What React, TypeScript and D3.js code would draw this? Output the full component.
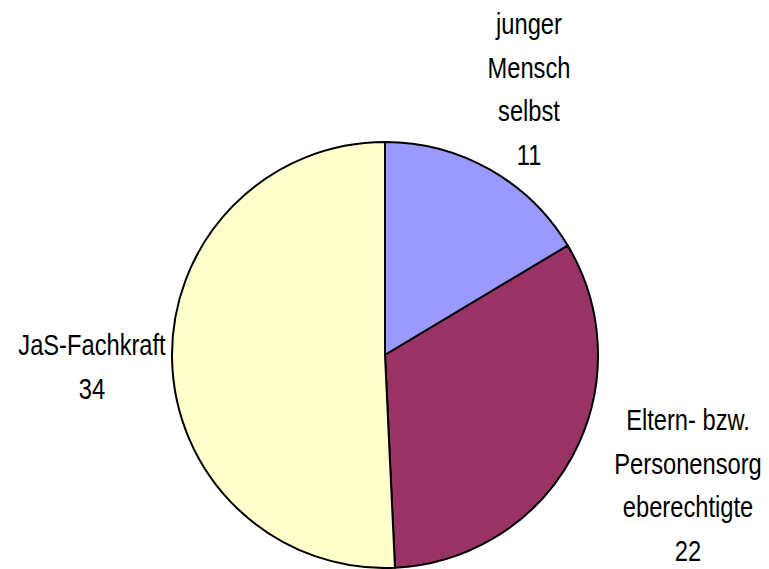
import React from "react";
import * as d3 from "d3";

// chart values
const categories = ["junger Mensch selbst", "Eltern- bzw. Personensorgeberechtigte", "JaS-Fachkraft"];
const values = [11, 22, 34];
// label text as printed (wrapped like the original)
const labelLines = [
  ["junger", "Mensch", "selbst"],
  ["Eltern- bzw.", "Personensorg", "eberechtigte"],
  ["JaS-Fachkraft"],
];
const colors = ["#9999FF", "#993366", "#FFFFCC"];

const width = 769;
const height = 569;
const cx = 385;
const cy = 355;
const radius = 213;

// where each label block sits: center x, first baseline
const labelAnchors = [
  { x: 529, y: 34 },
  { x: 688, y: 430 },
  { x: 92, y: 355 },
];
const lineGap = 43.5;

const App = () => {
  const pie = d3
    .pie<number>()
    .sort(null)
    .value((d) => d)
    .startAngle(0)
    .endAngle(2 * Math.PI);
  const arcs = pie(values);
  const arc = d3.arc<d3.PieArcDatum<number>>().innerRadius(0).outerRadius(radius);

  return (
    <svg width={width} height={height} style={{ display: "block", position: "absolute", left: 0, top: 0 }}>
      <rect width={width} height={height} fill="#ffffff" />
      <g transform={`translate(${cx},${cy})`}>
        {arcs.map((a, i) => (
          <path
            key={categories[i]}
            d={arc(a) || ""}
            fill={colors[i]}
            stroke="#000"
            strokeWidth={2}
            strokeLinejoin="round"
          />
        ))}
      </g>
      {labelLines.map((lines, i) => {
        const all = [...lines, String(values[i])];
        return (
          <g key={i} fontFamily="'Liberation Sans', Arial, sans-serif" fontSize={30} fill="#000">
            {all.map((t, j) => (
              <text
                key={j}
                textAnchor="middle"
                transform={`translate(${labelAnchors[i].x},${labelAnchors[i].y + j * lineGap}) scale(0.79,1)`}
              >
                {t}
              </text>
            ))}
          </g>
        );
      })}
    </svg>
  );
};

export default App;
